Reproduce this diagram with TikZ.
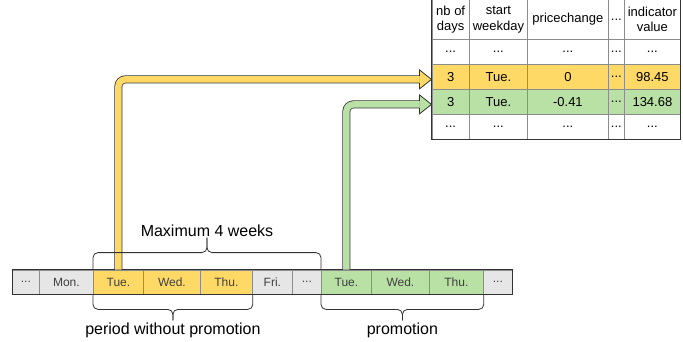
\documentclass[tikz,border=0pt]{standalone}
\usepackage{fontspec}
\setmainfont{Liberation Sans}
\usetikzlibrary{calc}
\definecolor{dayYellow}{HTML}{FFD966}
\definecolor{dayGreen}{HTML}{B9E0A5}
\definecolor{dayGray}{HTML}{E6E6E6}
\definecolor{gridGray}{HTML}{8C8C8C}
\definecolor{edgeDark}{HTML}{333333}
\newcommand\tdots{...}

\begin{document}
\begin{tikzpicture}[x=1pt, y=-1pt,
    daycell/.style={draw=gridGray, line width=0.8pt, anchor=west, minimum height=24pt, inner sep=0pt, text=black!75, font=\fontsize{12}{14}\selectfont},
    tcell/.style={draw=gridGray, line width=0.8pt, anchor=north west, inner sep=1pt, align=center, font=\fontsize{13}{15.5}\selectfont},
    barframe/.style={draw=edgeDark, line width=1pt},
    curlybrace/.style={draw=edgeDark, line width=0.8pt, rounded corners=5pt},
    bracelabel/.style={anchor=base, inner sep=0pt, font=\fontsize{16}{19}\selectfont},
    fatshaft/.style={draw=edgeDark, line width=0.8pt, double=#1, double distance=6.4pt, rounded corners=7pt},
    fathead/.style={fill=#1, draw=edgeDark, line width=0.8pt, line join=miter}]
  \useasboundingbox (0,0) rectangle (683,341);
  \foreach \x/\w/\d/\c [count=\i] in {12/27/\tdots/dayGray, 39/54/Mon./dayGray, 93/50/Tue./dayYellow, 143/57/Wed./dayYellow, 200/52/Thu./dayYellow, 252/40/Fri./dayGray, 292/29/\tdots/dayGray, 321/50/Tue./dayGreen, 371/58/Wed./dayGreen, 429/54/Thu./dayGreen, 483/29/\tdots/dayGray}
    \node[daycell, fill=\c, minimum width=\w pt] (d\i) at (\x,282) {\d};
  \draw[barframe] (d1.north west) rectangle (d11.south east);

  \foreach \x/\w/\txt [count=\c] in {431.5/37.5/{nb of\\days}, 469/58/{start\\weekday}, 527/81/pricechange, 608/16/\tdots, 624/56/{indicator\\value}}
    \node[tcell, minimum width=\w pt, minimum height=40pt] (hd\c) at (\x,-1) {\txt};
  \foreach \x/\w/\txt [count=\c] in {431.5/37.5/\tdots, 469/58/\tdots, 527/81/\tdots, 608/16/\tdots, 624/56/\tdots}
    \node[tcell, minimum width=\w pt, minimum height=25pt] (ra\c) at (\x,39) {\txt};
  \foreach \x/\w/\txt [count=\c] in {431.5/37.5/3, 469/58/Tue., 527/81/0, 608/16/\tdots, 624/56/98.45}
    \node[tcell, fill=dayYellow, minimum width=\w pt, minimum height=25pt] (ry\c) at (\x,64) {\txt};
  \foreach \x/\w/\txt [count=\c] in {431.5/37.5/3, 469/58/Tue., 527/81/-0.41, 608/16/\tdots, 624/56/134.68}
    \node[tcell, fill=dayGreen, minimum width=\w pt, minimum height=25pt] (rg\c) at (\x,89) {\txt};
  \foreach \x/\w/\txt [count=\c] in {431.5/37.5/\tdots, 469/58/\tdots, 527/81/\tdots, 608/16/\tdots, 624/56/\tdots}
    \node[tcell, minimum width=\w pt, minimum height=25pt] (rb\c) at (\x,114) {\txt};
  \draw[barframe] (hd1.north west) rectangle (rb5.south east);

  \coordinate (tipY) at ($(ry1.west)+(0,2.5)$);
  \coordinate (tipG) at ($(rg1.west)+(0,2.5)$);
  \draw[fatshaft=dayYellow] (d3.north) |- ($(tipY)+(-12,0)$);
  \filldraw[fathead=dayYellow, shift={(tipY)}] (-12,-3.6) -- (-12,-9.5) -- (0,0) -- (-12,9.5) -- (-12,3.6);
  \draw[fatshaft=dayGreen] (d8.north) |- ($(tipG)+(-12,0)$);
  \filldraw[fathead=dayGreen, shift={(tipG)}] (-12,-3.6) -- (-12,-9.5) -- (0,0) -- (-12,9.5) -- (-12,3.6);

  \coordinate (maxTip) at ($(d3.north west)!0.5!(d8.north west)+(0,-32)$);
  \draw[curlybrace] (d3.north west) -- ++(0,-17) -| (maxTip);
  \draw[curlybrace] (d8.north west) -- ++(0,-17) -| (maxTip);
  \node[bracelabel] (maxLabel) at ($(maxTip)+(0,-1.5)$) {Maximum 4 weeks};

  \coordinate (offTip) at ($(d3.south west)!0.5!(d5.south east)+(0,26)$);
  \draw[curlybrace] (d3.south west) -- ++(0,15) -| (offTip);
  \draw[curlybrace] (d5.south east) -- ++(0,15) -| (offTip);
  \node[bracelabel] (offLabel) at ($(offTip)+(0,14)$) {period without promotion};

  \coordinate (promoTip) at ($(d8.south west)!0.5!(d10.south east)+(0,26)$);
  \draw[curlybrace] (d8.south west) -- ++(0,15) -| (promoTip);
  \draw[curlybrace] (d10.south east) -- ++(0,15) -| (promoTip);
  \node[bracelabel] (promoLabel) at ($(promoTip)+(0,14)$) {promotion};
\end{tikzpicture}
\end{document}
